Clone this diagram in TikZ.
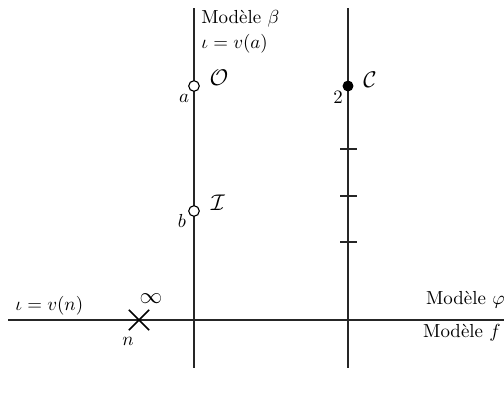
\documentclass[tikz,border=0pt]{standalone}
\usepackage{tikz}
\usetikzlibrary{positioning,shapes.misc}

\begin{document}
\begin{tikzpicture}[
  x=0.0186cm, y=-0.0186cm,
  axe/.style={line width=0.6pt, black!85},
  ouvert/.style={circle, draw, line width=0.6pt, fill=white, inner sep=0pt, minimum size=5.6pt},
  plein/.style={circle, fill=black, inner sep=0pt, minimum size=5.8pt},
  croix/.style={cross out, draw, line width=0.8pt, inner sep=0pt, minimum size=10pt},
  lbl/.style={inner sep=0pt},
  cal/.style={inner sep=0pt, font=\large}
]
  \useasboundingbox (0,0) rectangle (504,396);

  % axes
  \coordinate (bhaut) at (194,8);
  \coordinate (bbas) at (194,368);
  \coordinate (chaut) at (348,8);
  \coordinate (cbas) at (348,368);
  \coordinate (gauche) at (8,320);
  \coordinate (droite) at (504,320);
  \draw[axe] (bhaut) -- (bbas);
  \draw[axe] (chaut) -- (cbas);
  \draw[axe] (gauche) -- (droite);

  % graduations
  \foreach \t in {149,196,242}
    \draw[axe] (340,\t) -- (357,\t);

  % points
  \node[ouvert] (a) at (194,86) {};
  \node[ouvert] (b) at (194,211) {};
  \node[plein] (c) at (348,86) {};
  \node[croix] (n) at (139,320) {};

  \node[cal] (O) at (219,78) {$\mathcal{O}$};
  \node[lbl] (la) at (184,98) {$a$};
  \node[cal] (I) at (218,203) {$\mathcal{I}$};
  \node[lbl] (lb) at (182,221) {$b$};
  \node[cal] (C) at (370,80) {$\mathcal{C}$};
  \node[lbl] (l2) at (338,97) {$2$};
  \node[cal] (inf) at (151,299) {$\infty$};
  \node[lbl] (ln) at (128,341) {$n$};

  % textes
  \node[lbl, anchor=west] (beta) at (201,19) {Modèle $\beta$};
  \node[lbl, anchor=west] (iotaa) at (201,44) {$\iota=v(a)$};
  \node[lbl, anchor=west] (iotan) at (15,306) {$\iota=v(n)$};
  \node[lbl, anchor=east] (phi) at (505,300) {Modèle $\varphi$};
  \node[lbl, anchor=east] (f) at (501,333) {Modèle $f$};
\end{tikzpicture}
\end{document}
